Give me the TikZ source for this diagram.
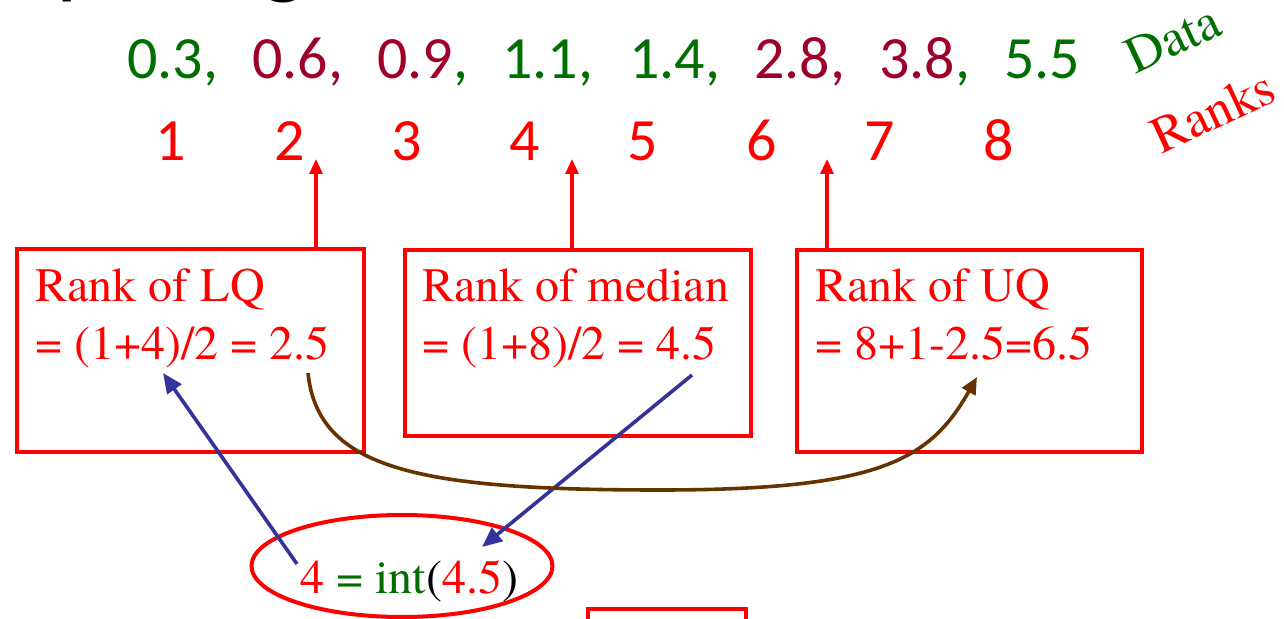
\documentclass[tikz,border=0pt]{standalone}
\usepackage{fontspec}
\newfontfamily\serifx{texgyretermes}[Extension=.otf, UprightFont=*-regular, BoldFont=*-bold]
\newfontfamily\carlito{Carlito}
\usetikzlibrary{arrows.meta,shapes.geometric}
\definecolor{dgreen}{RGB}{0,110,0}
\definecolor{dred}{RGB}{160,0,40}
\definecolor{ablue}{RGB}{51,51,153}
\definecolor{abrown}{RGB}{102,51,0}
\begin{document}
\begin{tikzpicture}[x=0.5pt,y=-0.5pt,
  datum/.style={anchor=base west, inner sep=0pt, font=\carlito\fontsize{30}{36}\selectfont},
  rank/.style={anchor=base, inner sep=0pt, text=red, font=\carlito\fontsize{30}{36}\selectfont},
  box/.style={draw=red, line width=2pt, inner sep=0pt},
  boxtext/.style={anchor=base west, inner sep=0pt, text=red, font=\serifx\fontsize{24}{28}\selectfont},
  label/.style={anchor=base, inner sep=0pt, rotate=25, font=\serifx\fontsize{26}{30}\selectfont},
  uparrow/.style={draw=red, line width=1.6pt, -{Triangle[length=7.5pt,width=6.5pt]}},
  bluearrow/.style={draw=ablue, line width=1.8pt, -{Triangle[length=10pt,width=8.5pt]}},
  brownarrow/.style={draw=abrown, line width=1.8pt, -{Triangle[length=8.5pt,width=7.5pt]}},
]
\useasboundingbox (0,0) rectangle (1284,619);

% clipped title
\node[anchor=base west, inner sep=0pt, font=\carlito\fontsize{48}{58}\selectfont] (title) at (-122,-13) {Computing};

% data row
\node[datum, text=dgreen] (d1) at (127,79) {0.3,};
\node[datum, text=dred] (d2) at (252,79) {0.6,};
\node[datum] (d3) at (377,79) {\textcolor{dred}{0.9}\textcolor{dgreen}{,}};
\node[datum, text=dgreen] (d4) at (502,79) {1.1,};
\node[datum, text=dgreen] (d5) at (629,79) {1.4,};
\node[datum, text=dred] (d6) at (754,79) {2.8,};
\node[datum] (d7) at (879,79) {\textcolor{dred}{3.8}\textcolor{dgreen}{,}};
\node[datum, text=dgreen] (d8) at (1004,79) {5.5};

% ranks row
\node[rank] (r1) at (171,161) {1};
\node[rank] (r2) at (290,161) {2};
\node[rank] (r3) at (407,161) {3};
\node[rank] (r4) at (525,161) {4};
\node[rank] (r5) at (643,161) {5};
\node[rank] (r6) at (762,161) {6};
\node[rank] (r7) at (880,161) {7};
\node[rank] (r8) at (999,161) {8};

% side labels
\node[label, text=dgreen] (datalbl) at (1180,54) {Data};
\node[label, text=red] (rankslbl) at (1220,127) {Ranks};

% boxes
\node[box, minimum width=173.5pt, minimum height=101.5pt] (lq) at (190.5,350.5) {};
\node[box, minimum width=173pt, minimum height=93pt] (med) at (578,343) {};
\node[box, minimum width=172.5pt, minimum height=101pt] (uq) at (969.5,351) {};
\node[box, minimum width=79pt, minimum height=40pt] (bot) at (667,649) {};

\node[boxtext] (lqa) at (35,302) {Rank of LQ};
\node[boxtext] (lqb) at (35,360) {= (1+4)/2 = 2.5};
\node[boxtext] (meda) at (422,302) {Rank of median};
\node[boxtext] (medb) at (422,360) {= (1+8)/2 = 4.5};
\node[boxtext] (uqa) at (815,302) {Rank of UQ};
\node[boxtext] (uqb) at (815,360) {= 8+1-2.5=6.5};

% up arrows
\coordinate (t2) at (316,159);
\coordinate (t45) at (572,159);
\coordinate (t65) at (827,159);
\draw[uparrow] (lq.north -| t2) -- (t2);
\draw[uparrow] (med.north -| t45) -- (t45);
\draw[uparrow] (uq.north -| t65) -- (t65);

% ellipse
\node[draw=red, line width=2pt, ellipse, minimum width=150.5pt, minimum height=51pt, inner sep=0pt] (ell) at (402,566) {};
\node[anchor=base west, inner sep=0pt, font=\serifx\fontsize{24}{30}\selectfont] (eq) at (300,593) {\textcolor{red}{4} \textcolor{dgreen}{= int}(\textcolor{red}{4.5})};

% blue arrows
\coordinate (b1s) at (297,564);
\coordinate (b1e) at (163,373);
\coordinate (b2s) at (692,375);
\coordinate (b2e) at (482,547);
\draw[bluearrow] (b1s) -- (b1e);
\draw[bluearrow] (b2s) -- (b2e);

% brown curve
\coordinate (c1s) at (308,373);
\coordinate (c1m) at (660,490);
\coordinate (c1e) at (977,377);
\draw[brownarrow] (c1s) .. controls (318,470) and (420,490) .. (c1m)
  .. controls (880,490) and (930,460) .. (c1e);
\end{tikzpicture}
\end{document}
